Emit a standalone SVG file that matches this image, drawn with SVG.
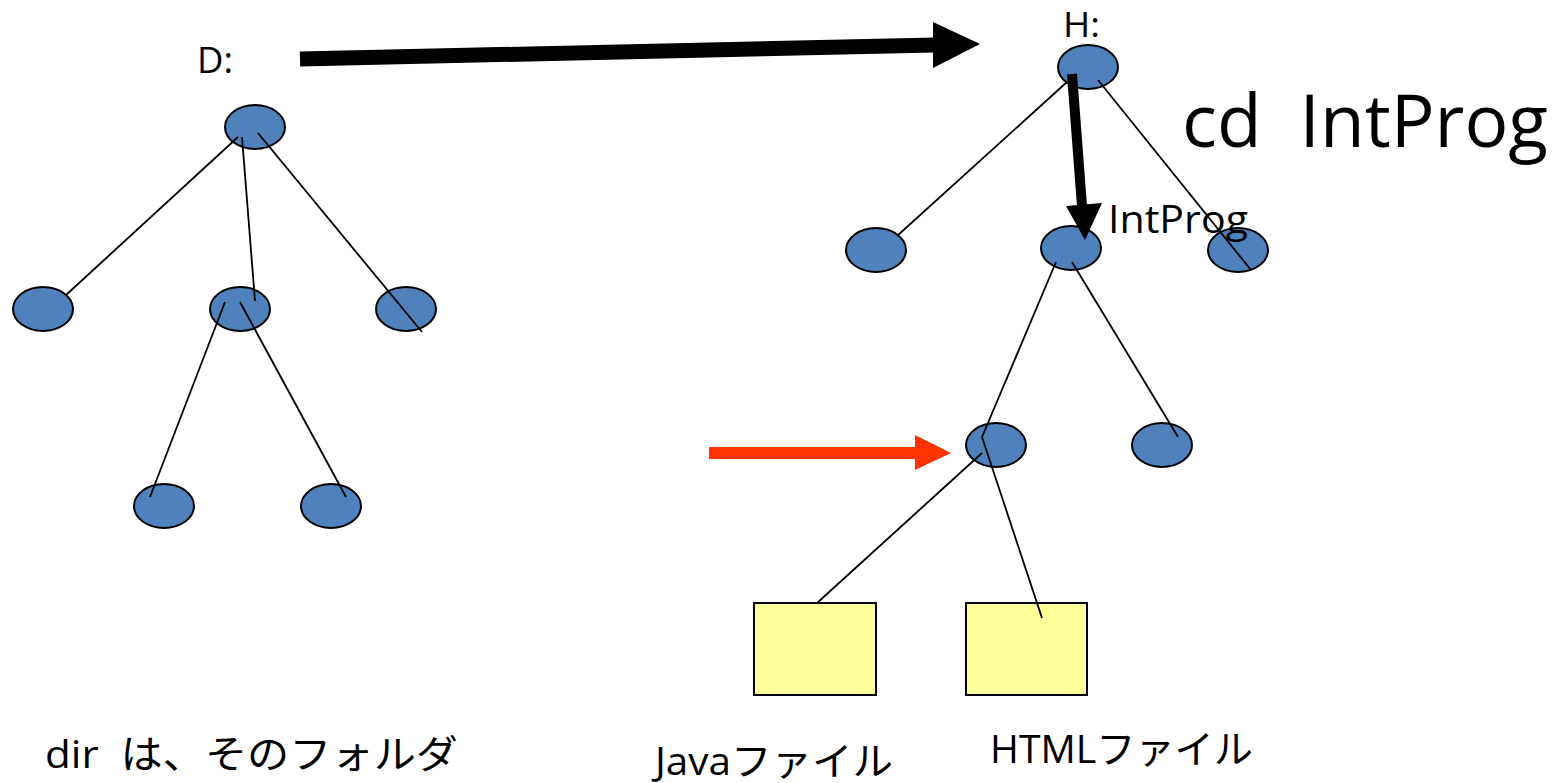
<svg xmlns="http://www.w3.org/2000/svg" width="1553" height="783" viewBox="0 0 1553 783">
<style>
.folder{fill:#4F81BD;stroke:#000;stroke-width:2}
.file{fill:#FFFF99;stroke:#000;stroke-width:2}
.edge{stroke:#000;stroke-width:1.8;fill:none}
.lbl{font-family:"Open Sans","Noto Sans CJK JP",sans-serif;fill:#000}
</style>
<rect width="1553" height="783" fill="#fff"/>
<g id="left-tree">
<g id="D-root"><text class="lbl" x="197" y="73" font-size="37" textLength="36" lengthAdjust="spacingAndGlyphs">D:</text><ellipse class="folder" cx="255" cy="127" rx="30" ry="22"/></g>
<g id="L1"><ellipse class="folder" cx="43" cy="309" rx="30" ry="22"/></g>
<g id="L2"><ellipse class="folder" cx="240" cy="309" rx="30" ry="22"/></g>
<g id="L3"><ellipse class="folder" cx="406" cy="309" rx="30" ry="22"/></g>
<g id="L21"><ellipse class="folder" cx="164" cy="506" rx="30" ry="22"/></g>
<g id="L22"><ellipse class="folder" cx="331" cy="506" rx="30" ry="22"/></g>
</g>
<g id="right-tree">
<g id="H-root"><text class="lbl" x="1063" y="37" font-size="34" textLength="37" lengthAdjust="spacingAndGlyphs">H:</text><ellipse class="folder" cx="1088" cy="67" rx="30" ry="22"/></g>
<g id="R1"><ellipse class="folder" cx="876" cy="250" rx="30" ry="22"/></g>
<g id="R2-IntProg"><ellipse class="folder" cx="1071" cy="248" rx="30" ry="22"/></g>
<g id="R3"><ellipse class="folder" cx="1238" cy="250" rx="30" ry="22"/></g>
<g id="R21"><ellipse class="folder" cx="996" cy="445" rx="30" ry="22"/></g>
<g id="R22"><ellipse class="folder" cx="1162" cy="445" rx="30" ry="22"/></g>
<g id="java-file"><rect class="file" x="754" y="603" width="122" height="92"/></g>
<g id="html-file"><rect class="file" x="966" y="603" width="121" height="92"/></g>
</g>
<g id="connectors">
<line class="edge" x1="238" y1="137" x2="66" y2="295"/>
<line class="edge" x1="242" y1="137" x2="255" y2="301"/>
<line class="edge" x1="258" y1="133" x2="422" y2="332"/>
<line class="edge" x1="225" y1="302" x2="150" y2="497"/>
<line class="edge" x1="240" y1="302" x2="346" y2="497"/>
<line class="edge" x1="1067" y1="82" x2="897" y2="236"/>
<line class="edge" x1="1098" y1="80" x2="1251" y2="270"/>
<line class="edge" x1="1056" y1="262" x2="982" y2="437"/>
<line class="edge" x1="1072" y1="262" x2="1178" y2="437"/>
<line class="edge" x1="982" y1="437" x2="1042" y2="618"/>
<line class="edge" x1="982" y1="453" x2="817" y2="603"/>
</g>
<g id="arrows">
<line x1="300" y1="59" x2="935" y2="45" stroke="#000" stroke-width="15"/>
<polygon points="933,22 980,44 933,68" fill="#000"/>
<line x1="1072" y1="74" x2="1082" y2="206" stroke="#000" stroke-width="10"/>
<polygon points="1066,206 1085,240 1102,203" fill="#000"/>
<line x1="709" y1="453" x2="917" y2="453" stroke="#FF3300" stroke-width="12"/>
<polygon points="915,435 951,453 915,470" fill="#FF3300"/>
</g>
<g id="labels">
<text class="lbl" x="1108" y="233" font-size="38" textLength="140" lengthAdjust="spacingAndGlyphs">IntProg</text>
<text class="lbl" x="1182" y="147" font-size="74" textLength="366" lengthAdjust="spacingAndGlyphs" xml:space="preserve">cd  IntProg</text>
<text class="lbl" x="45" y="768" font-size="39" textLength="413" lengthAdjust="spacingAndGlyphs" xml:space="preserve">dir  は、そのフォルダ</text>
<text class="lbl" x="655" y="775" font-size="39" textLength="238" lengthAdjust="spacingAndGlyphs">Javaファイル</text>
<text class="lbl" x="990" y="763" font-size="39" textLength="263" lengthAdjust="spacingAndGlyphs">HTMLファイル</text>
</g>
</svg>
